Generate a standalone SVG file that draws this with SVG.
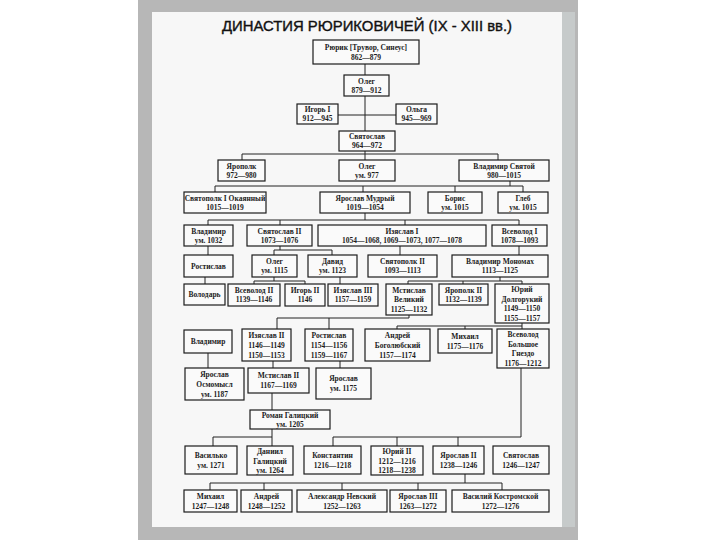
<svg xmlns="http://www.w3.org/2000/svg" width="720" height="540" viewBox="0 0 720 540">
<style>
.b{fill:#fafafa;stroke:#1c1c1c;stroke-width:1.2}
.t{font-family:"Liberation Serif","DejaVu Serif",serif;font-size:7.5px;font-weight:bold;text-anchor:middle;fill:#1c1c1c}
.c{fill:none;stroke:#222;stroke-width:1}
</style>
<rect x="0" y="0" width="720" height="540" fill="#ffffff"/>
<rect x="138" y="0" width="440" height="540" fill="#b7b7b7"/>
<rect x="562" y="12" width="13" height="515" fill="#c6caca"/>
<rect x="152" y="12" width="410" height="515" fill="#f7f7f7"/>
<text x="222" y="31" font-family="Liberation Sans, Arial, sans-serif" font-size="15.5" fill="#111" stroke="#111" stroke-width="0.4" textLength="290" lengthAdjust="spacingAndGlyphs">ДИНАСТИЯ РЮРИКОВИЧЕЙ (IX - XIII вв.)</text>
<g id="connectors" class="c">
<path d="M365 64V75M365 96V131M338 115H396"/>
<path d="M365 151V154M242 154H498M242 154V160M365 154V160M498 154V160"/>
<path d="M510 181V186M215 186H523M215 186V192M363 186V192M455 186V192M523 186V192"/>
<path d="M365 213V220M208 220H519M208 220V225M280 220V225M405 220V225M519 220V225"/>
<path d="M208 246V255M280 246V250M274 250H332M274 250V255M332 250V255M400 246V255M519 246V255"/>
<path d="M205 277V284M274 277V281M254 281H305M254 281V284M305 281V284M340 277V284"/>
<path d="M500 277V281M408 281H522M408 281V284M463 281V284M522 281V284"/>
<path d="M409 315V318M277 318H409M277 318V329M329 318V329"/>
<path d="M522 323V326M397 326H522M397 326V329M465 326V329M522 326V329"/>
<path d="M208 353V368M273 361V368M340 361V368M272 393V410"/>
<path d="M272 429V446M213 437H272M213 437V446"/>
<path d="M521 368V437M333 437H521M333 437V446M397 437V446M458 437V446"/>
<path d="M465 474V483M210 483H502M210 483V490M264 483V490M342 483V490M418 483V490M502 483V490"/>
</g>
<g id="rurik"><rect class="b" x="313" y="40" width="106" height="24"/><text class="t" x="366" y="50">Рюрик [Трувор, Синеус]</text><text class="t" x="366" y="60">862—879</text></g>
<g id="oleg"><rect class="b" x="344" y="75" width="45" height="21"/><text class="t" x="366.5" y="84">Олег</text><text class="t" x="366.5" y="93">879—912</text></g>
<g id="igor"><rect class="b" x="297" y="104" width="41" height="20"/><text class="t" x="317.5" y="112">Игорь I</text><text class="t" x="317.5" y="121">912—945</text></g>
<g id="olga"><rect class="b" x="396" y="104" width="41" height="20"/><text class="t" x="416.5" y="112">Ольга</text><text class="t" x="416.5" y="121">945—969</text></g>
<g id="svyatoslav"><rect class="b" x="339" y="131" width="56" height="20"/><text class="t" x="367" y="139">Святослав</text><text class="t" x="367" y="148">964—972</text></g>
<g id="yaropolk"><rect class="b" x="218" y="160" width="47" height="21"/><text class="t" x="241.5" y="168.5">Ярополк</text><text class="t" x="241.5" y="177.5">972—980</text></g>
<g id="oleg977"><rect class="b" x="339" y="160" width="56" height="21"/><text class="t" x="367" y="168.5">Олег</text><text class="t" x="367" y="177.5">ум. 977</text></g>
<g id="vladimir-svyatoy"><rect class="b" x="459" y="160" width="90" height="21"/><text class="t" x="504" y="168.5">Владимир Святой</text><text class="t" x="504" y="177.5">980—1015</text></g>
<g id="svyatopolk"><rect class="b" x="184" y="192" width="82" height="21"/><text class="t" x="225" y="200.5">Святополк I Окаянный</text><text class="t" x="225" y="209.5">1015—1019</text></g>
<g id="yaroslav-mudry"><rect class="b" x="320" y="192" width="90" height="21"/><text class="t" x="365" y="200.5">Ярослав Мудрый</text><text class="t" x="365" y="209.5">1019—1054</text></g>
<g id="boris"><rect class="b" x="428" y="192" width="54" height="21"/><text class="t" x="455" y="200.5">Борис</text><text class="t" x="455" y="209.5">ум. 1015</text></g>
<g id="gleb"><rect class="b" x="498" y="192" width="50" height="21"/><text class="t" x="523" y="200.5">Глеб</text><text class="t" x="523" y="209.5">ум. 1015</text></g>
<g id="vladimir1032"><rect class="b" x="184" y="225" width="49" height="21"/><text class="t" x="208.5" y="233.5">Владимир</text><text class="t" x="208.5" y="242.5">ум. 1032</text></g>
<g id="svyatoslav2"><rect class="b" x="247" y="225" width="65" height="21"/><text class="t" x="279.5" y="233.5">Святослав II</text><text class="t" x="279.5" y="242.5">1073—1076</text></g>
<g id="izyaslav1"><rect class="b" x="318" y="225" width="168" height="21"/><text class="t" x="402" y="233.5">Изяслав I</text><text class="t" x="402" y="242.5">1054—1068, 1069—1073, 1077—1078</text></g>
<g id="vsevolod1"><rect class="b" x="492" y="225" width="55" height="21"/><text class="t" x="519.5" y="233.5">Всеволод I</text><text class="t" x="519.5" y="242.5">1078—1093</text></g>
<g id="rostislav"><rect class="b" x="184" y="255" width="49" height="22"/><text class="t" x="208.5" y="268.5">Ростислав</text></g>
<g id="oleg1115"><rect class="b" x="252" y="255" width="45" height="22"/><text class="t" x="274.5" y="264">Олег</text><text class="t" x="274.5" y="273">ум. 1115</text></g>
<g id="david"><rect class="b" x="308" y="255" width="49" height="22"/><text class="t" x="332.5" y="264">Давид</text><text class="t" x="332.5" y="273">ум. 1123</text></g>
<g id="svyatopolk2"><rect class="b" x="368" y="255" width="69" height="22"/><text class="t" x="402.5" y="264">Святополк II</text><text class="t" x="402.5" y="273">1093—1113</text></g>
<g id="monomakh"><rect class="b" x="452" y="255" width="96" height="22"/><text class="t" x="500" y="264">Владимир Мономах</text><text class="t" x="500" y="273">1113—1125</text></g>
<g id="volodar"><rect class="b" x="184" y="284" width="41" height="21"/><text class="t" x="204.5" y="297">Володарь</text></g>
<g id="vsevolod2"><rect class="b" x="228" y="284" width="52" height="22"/><text class="t" x="254" y="292.5">Всеволод II</text><text class="t" x="254" y="302">1139—1146</text></g>
<g id="igor2"><rect class="b" x="285" y="284" width="40" height="22"/><text class="t" x="305" y="292.5">Игорь II</text><text class="t" x="305" y="302">1146</text></g>
<g id="izyaslav3"><rect class="b" x="328" y="284" width="50" height="22"/><text class="t" x="353" y="292.5">Изяслав III</text><text class="t" x="353" y="302">1157—1159</text></g>
<g id="mstislav-v"><rect class="b" x="386" y="284" width="46" height="31"/><text class="t" x="409" y="292.5">Мстислав</text><text class="t" x="409" y="302">Великий</text><text class="t" x="409" y="311.5">1125—1132</text></g>
<g id="yaropolk2"><rect class="b" x="439" y="284" width="49" height="21"/><text class="t" x="463.5" y="292.5">Ярополк II</text><text class="t" x="463.5" y="301.5">1132—1139</text></g>
<g id="yuri-d"><rect class="b" x="495" y="284" width="54" height="39"/><text class="t" x="522" y="292">Юрий</text><text class="t" x="522" y="301.5">Долгорукий</text><text class="t" x="522" y="311">1149—1150</text><text class="t" x="522" y="320.5">1155—1157</text></g>
<g id="vladimir-b"><rect class="b" x="184" y="330" width="48" height="23"/><text class="t" x="208" y="344">Владимир</text></g>
<g id="izyaslav2"><rect class="b" x="242" y="329" width="49" height="32"/><text class="t" x="266.5" y="337.5">Изяслав II</text><text class="t" x="266.5" y="347.5">1146—1149</text><text class="t" x="266.5" y="357.5">1150—1153</text></g>
<g id="rostislav2"><rect class="b" x="305" y="329" width="48" height="32"/><text class="t" x="329" y="337.5">Ростислав</text><text class="t" x="329" y="347.5">1154—1156</text><text class="t" x="329" y="357.5">1159—1167</text></g>
<g id="andrei-b"><rect class="b" x="365" y="329" width="65" height="32"/><text class="t" x="397.5" y="337.5">Андрей</text><text class="t" x="397.5" y="347.5">Боголюбский</text><text class="t" x="397.5" y="357.5">1157—1174</text></g>
<g id="mikhail"><rect class="b" x="438" y="329" width="54" height="24"/><text class="t" x="465" y="339">Михаил</text><text class="t" x="465" y="349">1175—1176</text></g>
<g id="vsevolod-bg"><rect class="b" x="497" y="329" width="52" height="39"/><text class="t" x="523" y="337">Всеволод</text><text class="t" x="523" y="346.5">Большое</text><text class="t" x="523" y="356">Гнездо</text><text class="t" x="523" y="365.5">1176—1212</text></g>
<g id="yaroslav-o"><rect class="b" x="185" y="368" width="59" height="32"/><text class="t" x="214.5" y="376.5">Ярослав</text><text class="t" x="214.5" y="386.5">Осмомысл</text><text class="t" x="214.5" y="396.5">ум. 1187</text></g>
<g id="mstislav2"><rect class="b" x="248" y="368" width="61" height="25"/><text class="t" x="278.5" y="378">Мстислав II</text><text class="t" x="278.5" y="388">1167—1169</text></g>
<g id="yaroslav1175"><rect class="b" x="316" y="368" width="55" height="31"/><text class="t" x="343.5" y="381">Ярослав</text><text class="t" x="343.5" y="391">ум. 1175</text></g>
<g id="roman"><rect class="b" x="250" y="410" width="80" height="19"/><text class="t" x="290" y="418">Роман Галицкий</text><text class="t" x="290" y="427">ум. 1205</text></g>
<g id="vasilko"><rect class="b" x="185" y="446" width="52" height="28"/><text class="t" x="211" y="457.5">Василько</text><text class="t" x="211" y="467.5">ум. 1271</text></g>
<g id="daniil"><rect class="b" x="247" y="446" width="46" height="29"/><text class="t" x="270" y="454">Даниил</text><text class="t" x="270" y="463.5">Галицкий</text><text class="t" x="270" y="473">ум. 1264</text></g>
<g id="konstantin"><rect class="b" x="304" y="446" width="57" height="28"/><text class="t" x="332.5" y="457.5">Константин</text><text class="t" x="332.5" y="467.5">1216—1218</text></g>
<g id="yuri2"><rect class="b" x="371" y="446" width="52" height="29"/><text class="t" x="397" y="454">Юрий II</text><text class="t" x="397" y="463.5">1212—1216</text><text class="t" x="397" y="473">1218—1238</text></g>
<g id="yaroslav2"><rect class="b" x="433" y="446" width="51" height="28"/><text class="t" x="458.5" y="457.5">Ярослав II</text><text class="t" x="458.5" y="467.5">1238—1246</text></g>
<g id="svyatoslav3"><rect class="b" x="493" y="446" width="56" height="28"/><text class="t" x="521" y="457.5">Святослав</text><text class="t" x="521" y="467.5">1246—1247</text></g>
<g id="mikhail2"><rect class="b" x="184" y="490" width="53" height="22"/><text class="t" x="210.5" y="499">Михаил</text><text class="t" x="210.5" y="508.5">1247—1248</text></g>
<g id="andrei2"><rect class="b" x="241" y="490" width="51" height="22"/><text class="t" x="266.5" y="499">Андрей</text><text class="t" x="266.5" y="508.5">1248—1252</text></g>
<g id="alexander"><rect class="b" x="297" y="490" width="90" height="22"/><text class="t" x="342" y="499">Александр Невский</text><text class="t" x="342" y="508.5">1252—1263</text></g>
<g id="yaroslav3"><rect class="b" x="390" y="490" width="56" height="22"/><text class="t" x="418" y="499">Ярослав III</text><text class="t" x="418" y="508.5">1263—1272</text></g>
<g id="vasily"><rect class="b" x="452" y="490" width="97" height="22"/><text class="t" x="500.5" y="499">Василий Костромской</text><text class="t" x="500.5" y="508.5">1272—1276</text></g>
</svg>
